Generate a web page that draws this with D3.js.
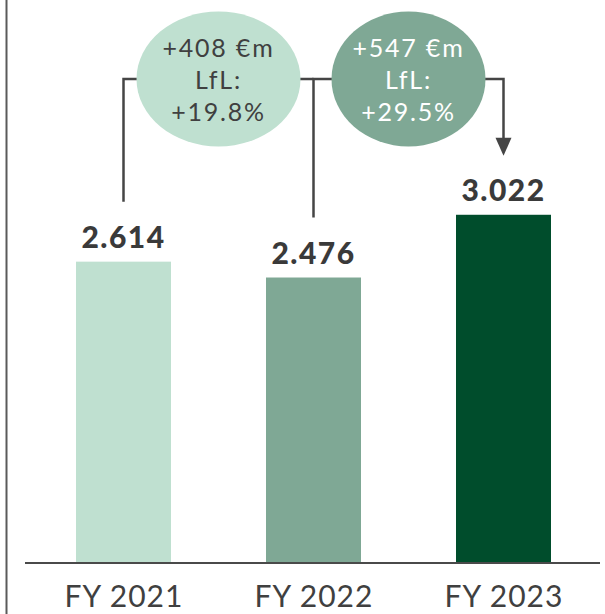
<!DOCTYPE html>
<html>
<head>
<meta charset="utf-8">
<script src="https://cdn.jsdelivr.net/npm/d3@7"></script>
<style>
  body { margin: 0; background: #fff; }
  text { font-family: Lato, "Open Sans", sans-serif; }
</style>
</head>
<body>
<div id="chart"></div>
<script>
// data
var years = ["FY 2021", "FY 2022", "FY 2023"];
var sales = [2.614, 2.476, 3.022];
var salesLabels = ["2.614", "2.476", "3.022"];
var barColors = ["#bfe0d0", "#7fa895", "#004d2c"];
var bubbleLines = [["+408 €m", "LfL:", "+19.8%"], ["+547 €m", "LfL:", "+29.5%"]];
var bubbleText = ["#404040", "#ffffff"];

var W = 605, H = 614, base = 562;

var svg = d3.select("#chart").append("svg")
  .attr("width", W).attr("height", H);

// left edge rule
svg.append("line")
  .attr("x1", 6.5).attr("x2", 6.5).attr("y1", 0).attr("y2", H)
  .attr("stroke", "#5a5a5a").attr("stroke-width", 2);

var x = d3.scaleBand()
  .domain(years)
  .range([28.5, 598.5])
  .paddingInner(0.5)
  .paddingOuter(0.25);

var y = d3.scaleLinear()
  .domain([0, 4])
  .range([base, base - 4 * 114.9]);

function cx(i) { return x(years[i]) + x.bandwidth() / 2; }

// bars
svg.selectAll(".bar")
  .data(sales)
  .enter()
  .append("rect")
    .attr("x", function(d, i) { return x(years[i]); })
    .attr("y", function(d) { return y(d); })
    .attr("width", x.bandwidth())
    .attr("height", function(d) { return base - y(d); })
    .attr("fill", function(d, i) { return barColors[i]; });

// value labels
svg.selectAll(".val")
  .data(sales)
  .enter()
  .append("text")
    .attr("x", function(d, i) { return cx(i); })
    .attr("y", function(d) { return y(d) - 14; })
    .attr("text-anchor", "middle")
    .attr("font-size", 30)
    .attr("font-weight", 900)
    .attr("letter-spacing", 1.5)
    .attr("fill", "#3a3a3a")
    .text(function(d, i) { return salesLabels[i]; });

// baseline
svg.append("line")
  .attr("x1", 25).attr("x2", 600).attr("y1", base + 1).attr("y2", base + 1)
  .attr("stroke", "#4a4a4a").attr("stroke-width", 2);

// category labels
svg.selectAll(".cat")
  .data(years)
  .enter()
  .append("text")
    .attr("x", function(d, i) { return cx(i) + 0.5; })
    .attr("y", 607)
    .attr("text-anchor", "middle")
    .attr("font-size", 30)
    .attr("letter-spacing", 1)
    .attr("fill", "#404040")
    .text(function(d) { return d; });

// connectors
var lineY = 79;
var conn = svg.append("g")
  .attr("fill", "none")
  .attr("stroke", "#454545")
  .attr("stroke-width", 2.5);

conn.append("path")
  .attr("d", "M" + cx(0) + "," + (y(sales[0]) - 60) + "V" + lineY + "H" + cx(1));
conn.append("path")
  .attr("d", "M" + cx(1) + "," + (y(sales[1]) - 60) + "V" + lineY + "H" + cx(2) + "V" + (y(sales[2]) - 76));

svg.append("path")
  .attr("d", "M" + (cx(2) - 8) + "," + (y(sales[2]) - 77) + "L" + (cx(2) + 8) + "," + (y(sales[2]) - 77) + "L" + cx(2) + "," + (y(sales[2]) - 59) + "Z")
  .attr("fill", "#454545");

// bubbles
var rx = [82, 77];
bubbleLines.forEach(function(lines, i) {
  var bx = (cx(i) + cx(i + 1)) / 2;
  var g = svg.append("g");
  g.append("ellipse")
    .attr("cx", bx).attr("cy", lineY)
    .attr("rx", rx[i]).attr("ry", 67.5)
    .attr("fill", barColors[i]);
  g.selectAll("text")
    .data(lines)
    .enter()
    .append("text")
      .attr("x", bx)
      .attr("y", function(d, j) { return 57 + j * 32; })
      .attr("text-anchor", "middle")
      .attr("font-size", 25)
      .attr("letter-spacing", 1.8)
      .attr("fill", bubbleText[i])
      .text(function(d) { return d; });
});
</script>
</body>
</html>
